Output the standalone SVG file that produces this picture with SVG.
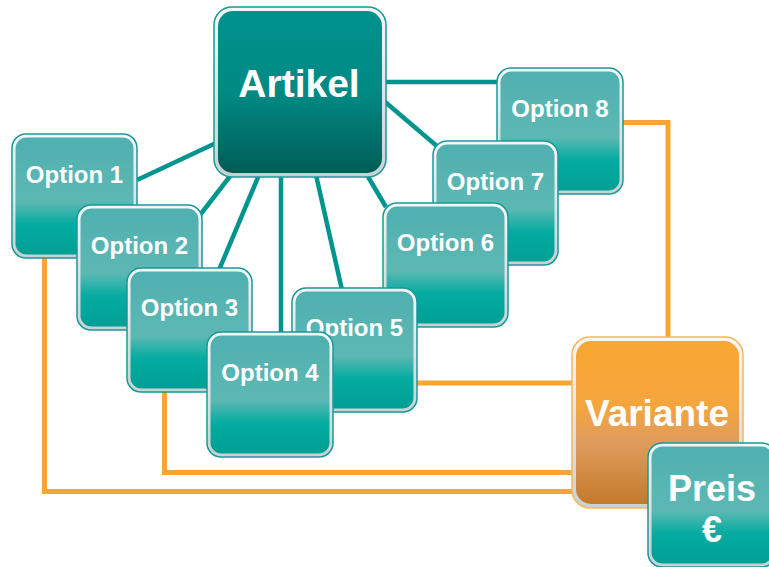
<svg xmlns="http://www.w3.org/2000/svg" width="769" height="567" viewBox="0 0 769 567">
<defs>
<linearGradient id="gOpt" x1="0" y1="0" x2="0" y2="1">
<stop offset="0" stop-color="#4fb0b0"/>
<stop offset="0.55" stop-color="#5db8b3"/>
<stop offset="0.74" stop-color="#05aca1"/>
<stop offset="1" stop-color="#009f95"/>
</linearGradient>
<linearGradient id="gArt" x1="0" y1="0" x2="0" y2="1">
<stop offset="0" stop-color="#00918d"/>
<stop offset="0.5" stop-color="#008a84"/>
<stop offset="1" stop-color="#005c56"/>
</linearGradient>
<linearGradient id="gVar" x1="0" y1="0" x2="0" y2="1">
<stop offset="0" stop-color="#f8a732"/>
<stop offset="0.4" stop-color="#f4a53d"/>
<stop offset="0.62" stop-color="#df9c5d"/>
<stop offset="1" stop-color="#c47a2b"/>
</linearGradient>
<linearGradient id="gRing" x1="0" y1="0" x2="0" y2="1">
<stop offset="0" stop-color="#f4f7f7"/>
<stop offset="1" stop-color="#c9d2d3"/>
</linearGradient>
</defs>
<style>
.tl{stroke:#00948f;stroke-width:4.5;fill:none;stroke-linecap:butt}
.ol{stroke:#f9a533;stroke-width:5;fill:none;stroke-linejoin:miter}
.ring{fill:url(#gRing);stroke:#19999a;stroke-width:1.5}
.ringV{fill:url(#gRing);stroke:#f8b55a;stroke-width:1.5}
.fo{fill:url(#gOpt)}
.fa{fill:url(#gArt)}
.fv{fill:url(#gVar)}
text{font-family:"Liberation Sans",Arial,sans-serif;font-weight:bold;fill:#ffffff;text-anchor:middle}
.t{font-size:24px}
.ta{font-size:39px}
.tv{font-size:37px}
.tp{font-size:36px}
</style>
<g id="connectors">
<line class="tl" x1="137" y1="180" x2="216" y2="143"/>
<line class="tl" x1="200" y1="215" x2="231" y2="175"/>
<line class="tl" x1="219" y1="270" x2="259" y2="175"/>
<line class="tl" x1="281" y1="175" x2="281" y2="334"/>
<line class="tl" x1="316" y1="175" x2="342" y2="290"/>
<line class="tl" x1="367" y1="175" x2="386" y2="207"/>
<line class="tl" x1="384" y1="101" x2="438" y2="147"/>
<line class="tl" x1="384" y1="82" x2="499" y2="82"/>
<path class="ol" d="M621,122.5 H668 V339"/>
<path class="ol" d="M415,383 H574"/>
<path class="ol" d="M164.5,390 V472.5 H574"/>
<path class="ol" d="M44.5,256 V491.5 H574"/>
</g>
<g id="option1">
<rect class="ring" x="12" y="134" width="125" height="124" rx="14"/>
<rect class="fo" x="15.5" y="137.5" width="118" height="117" rx="11"/>
<text class="t" x="74.5" y="183">Option 1</text>
</g>
<g id="option2">
<rect class="ring" x="77" y="205" width="125" height="125" rx="14"/>
<rect class="fo" x="80.5" y="208.5" width="118" height="118" rx="11"/>
<text class="t" x="139.5" y="254">Option 2</text>
</g>
<g id="option3">
<rect class="ring" x="127" y="268" width="125" height="124" rx="14"/>
<rect class="fo" x="130.5" y="271.5" width="118" height="117" rx="11"/>
<text class="t" x="189.5" y="316">Option 3</text>
</g>
<g id="option8">
<rect class="ring" x="497" y="68" width="126" height="126" rx="14"/>
<rect class="fo" x="500.5" y="71.5" width="119" height="119" rx="11"/>
<text class="t" x="560" y="117">Option 8</text>
</g>
<g id="option7">
<rect class="ring" x="433" y="141" width="125" height="124" rx="14"/>
<rect class="fo" x="436.5" y="144.5" width="118" height="117" rx="11"/>
<text class="t" x="495.5" y="190">Option 7</text>
</g>
<g id="option6">
<rect class="ring" x="383" y="203" width="125" height="124" rx="14"/>
<rect class="fo" x="386.5" y="206.5" width="118" height="117" rx="11"/>
<text class="t" x="445.5" y="251">Option 6</text>
</g>
<g id="option5">
<rect class="ring" x="292" y="288" width="125" height="124" rx="14"/>
<rect class="fo" x="295.5" y="291.5" width="118" height="117" rx="11"/>
<text class="t" x="354.5" y="336">Option 5</text>
</g>
<g id="option4">
<rect class="ring" x="207" y="332" width="126" height="125" rx="14"/>
<rect class="fo" x="210.5" y="335.5" width="119" height="118" rx="11"/>
<text class="t" x="270" y="381">Option 4</text>
</g>
<g id="artikel">
<rect class="ring" x="214" y="7" width="172" height="170" rx="18"/>
<rect class="fa" x="218" y="11" width="164" height="162" rx="15"/>
<text class="ta" x="299" y="97">Artikel</text>
</g>
<g id="variante">
<rect class="ringV" x="572" y="337" width="171" height="171" rx="18"/>
<rect class="fv" x="576" y="341" width="163" height="163" rx="15"/>
<text class="tv" x="657" y="426">Variante</text>
</g>
<g id="preis">
<rect class="ring" x="648" y="443" width="128" height="124" rx="14"/>
<rect class="fo" x="651.5" y="446.5" width="121" height="117" rx="11"/>
<text class="tp" x="712" y="501">Preis</text>
<text class="tp" x="712" y="542">€</text>
</g>
</svg>
